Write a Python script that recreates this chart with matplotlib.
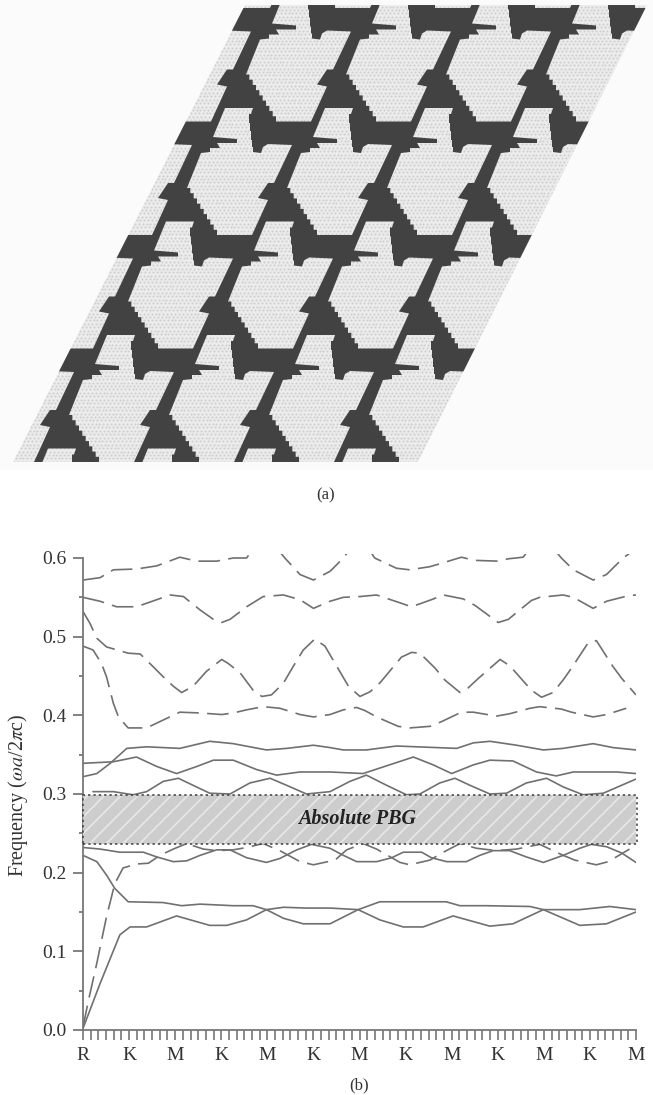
#!/usr/bin/env python3
import numpy as np
import matplotlib
matplotlib.use("Agg")
import matplotlib.pyplot as plt
from matplotlib.patches import Polygon, PathPatch, Rectangle
from matplotlib.path import Path

W, H = 653, 1095
INK = "#333333"
BAND = "#707070"

# band diagram, (x in segments, frequency)
top_x = [0, .37, .66, 1.16, 1.60, 2.10, 2.47, 2.90, 3.26, 3.55, 3.8, 4.1, 4.38, 4.71, 5.0, 5.36, 5.65, 5.9, 6.1, 6.33, 6.80, 7.09, 7.53, 7.82, 8.21, 8.50, 9.01, 9.23, 9.55, 9.8, 10.1, 10.38, 10.64, 11.07, 11.36, 11.72, 12.0]
top_f = [.572, .575, .585, .586, .59, .601, .596, .596, .6, .6, .62, .62, .6, .579, .572, .583, .6, .62, .62, .6, .587, .585, .589, .594, .601, .597, .596, .599, .601, .62, .62, .6, .585, .572, .579, .6, .612]

second_x = [0, .37, .73, 1.16, 1.60, 1.89, 2.18, 2.54, 2.83, 3.01, 3.19, 3.55, 3.91, 4.35, 4.71, 5.0, 5.36, 5.65, 6.01, 6.37, 6.88, 7.13, 7.56, 7.82, 8.25, 8.50, 9.01, 9.23, 9.73, 9.91, 10.42, 10.64, 11.07, 11.36, 11.83, 12.0]
second_f = [.55, .545, .538, .538, .547, .553, .551, .534, .522, .518, .522, .538, .551, .553, .547, .536, .545, .55, .551, .553, .543, .538, .547, .553, .548, .54, .518, .522, .546, .55, .553, .55, .536, .545, .552, .553]

third_x = [0, .15, .30, .51, .98, 1.24, 1.45, 1.74, 1.96, 2.14, 2.39, 2.68, 3.01, 3.15, 3.41, 3.69, 3.88, 4.09, 4.35, 4.56, 4.78, 5.03, 5.25, 5.36, 5.61, 5.76, 6.01, 6.23, 6.44, 6.91, 7.13, 7.31, 7.64, 7.85, 8.18, 8.36, 8.58, 9.05, 9.26, 9.73, 9.95, 10.20, 10.42, 10.60, 10.96, 11.14, 11.50, 11.69, 12.0]
third_f = [.532, .517, .498, .487, .479, .478, .466, .449, .437, .429, .437, .456, .471, .466, .454, .432, .424, .426, .441, .462, .483, .497, .488, .477, .452, .437, .424, .43, .441, .474, .48, .479, .46, .445, .429, .435, .447, .471, .463, .432, .423, .429, .445, .46, .492, .495, .462, .447, .426]

fourth_x = [0, .22, .40, .51, .66, .77, .98, 1.38, 1.74, 2.10, 2.54, 3.01, 3.26, 3.55, 3.91, 4.27, 4.71, 5.0, 5.36, 5.65, 5.94, 6.12, 6.37, 6.84, 7.09, 7.53, 7.78, 8.21, 8.47, 8.97, 9.26, 9.70, 9.91, 10.38, 10.60, 11.07, 11.36, 11.79]
fourth_f = [.488, .483, .466, .449, .415, .398, .384, .384, .394, .404, .403, .401, .403, .407, .411, .409, .401, .398, .401, .407, .41, .406, .398, .386, .384, .386, .392, .404, .404, .399, .402, .409, .411, .408, .404, .398, .401, .409]

upper1_x = [0, .30, .59, .95, 1.38, 2.10, 2.75, 3.26, 3.98, 4.42, 5.0, 5.36, 5.65, 6.15, 6.80, 7.24, 8.11, 8.47, 8.83, 9.41, 9.99, 10.42, 11.07, 11.50, 12.0]
upper1_f = [.322, .326, .339, .358, .36, .358, .367, .364, .356, .358, .362, .359, .356, .356, .361, .36, .358, .365, .367, .362, .356, .358, .364, .359, .356]

upper2_x = [0, .66, 1.16, 1.60, 2.03, 2.47, 2.83, 3.26, 3.77, 4.20, 4.71, 5.36, 6.08, 6.44, 7.17, 7.60, 8.0, 8.47, 8.83, 9.33, 9.84, 10.27, 10.64, 11.58, 12.0]
upper2_f = [.339, .341, .347, .335, .326, .335, .343, .343, .331, .324, .328, .328, .326, .333, .347, .337, .326, .337, .343, .342, .328, .323, .328, .328, .326]

upper3_x = [.22, .66, 1.09, 1.38, 1.74, 2.07, 2.39, 2.75, 3.19, 3.62, 4.06, 4.42, 4.85, 5.36, 5.79, 6.15, 6.59, 7.02, 7.31, 7.74, 8.07, 8.40, 8.83, 9.19, 9.62, 10.06, 10.42, 10.85, 11.29, 12.0]
upper3_f = [.303, .303, .299, .303, .316, .32, .311, .301, .3, .314, .32, .311, .3, .303, .316, .324, .311, .299, .3, .314, .32, .311, .3, .301, .314, .32, .309, .299, .301, .319]

lower1_x = [0, .37, .80, 1.31, 1.60, 1.96, 2.25, 2.54, 2.90, 3.19, 3.55, 3.98, 4.27, 4.64, 4.96, 5.36, 5.65, 5.94, 6.37, 6.70, 6.95, 7.35, 7.56, 7.89, 8.32, 8.61, 8.90, 9.26, 9.62, 9.99, 10.42, 10.78, 11.03, 11.36, 11.69, 12.0]
lower1_f = [.232, .23, .226, .226, .22, .214, .215, .222, .229, .229, .219, .213, .218, .229, .236, .231, .222, .214, .214, .219, .226, .226, .219, .214, .214, .222, .228, .228, .22, .213, .222, .231, .236, .233, .225, .213]

lower2_x = [0, .30, .51, .69, .98, 1.74, 2.14, 2.54, 3.26, 3.69, 3.98, 4.35, 4.85, 5.36, 5.97, 6.44, 7.88, 8.18, 8.76, 9.70, 9.99, 10.78, 11.43, 12.0]
lower2_f = [.222, .214, .197, .18, .163, .162, .158, .16, .158, .158, .153, .156, .155, .155, .153, .163, .163, .158, .158, .157, .153, .153, .157, .153]

lower3_x = [0, .37, .80, 1.02, 1.38, 2.03, 2.75, 3.12, 3.55, 3.98, 4.35, 4.78, 5.36, 5.97, 6.44, 6.95, 7.38, 8.03, 8.83, 9.33, 9.99, 10.78, 11.36, 12.0]
lower3_f = [.002, .059, .121, .131, .131, .145, .133, .133, .14, .153, .142, .135, .135, .153, .14, .131, .131, .145, .132, .135, .153, .133, .135, .15]

lower_dash_x = [0, .12, .30, .51, .69, .87, 1.16, 1.42, 1.67, 1.96, 2.25, 2.61, 2.90, 3.26, 3.55, 3.91, 4.27, 4.71, 5.0, 5.47, 5.72, 6.08, 6.37, 6.88, 7.09, 7.53, 7.82, 8.18, 8.54, 8.97, 9.41, 9.91, 10.42, 10.67, 11.14, 11.40, 11.86]
lower_dash_f = [.004, .038, .085, .144, .186, .206, .211, .212, .222, .23, .237, .23, .228, .229, .232, .237, .228, .214, .21, .216, .229, .237, .23, .213, .21, .216, .226, .237, .231, .228, .23, .236, .222, .216, .21, .214, .23]

dashed_bands = [(top_x, top_f), (second_x, second_f), (third_x, third_f), (fourth_x, fourth_f), (lower_dash_x, lower_dash_f)]
solid_bands = [(upper1_x, upper1_f), (upper2_x, upper2_f), (upper3_x, upper3_f), (lower1_x, lower1_f), (lower2_x, lower2_f), (lower3_x, lower3_f)]

gap_low, gap_high = 0.237, 0.299
point_labels = ["R", "K", "M", "K", "M", "K", "M", "K", "M", "K", "M", "K", "M"]

# one air cell of the lattice in picture pixels
cell_head = [(225, 108), (253, 108), (251, 114), (249, 114), (249, 123), (250, 123), (250, 131), (251, 131), (251, 140), (252, 140), (252, 147), (253, 147), (253, 152), (261, 153), (263, 147), (268, 144), (292, 145), (274, 183), (268, 183), (258, 198), (268, 200), (252, 235)]
cell_tail = [(201, 153), (210, 152), (210, 148), (220, 148), (217, 143), (237, 143), (237, 139), (213, 137)]
cell_stair_from = (217, 235)
cell_stair_to = (187, 188)
period_a = (100, 0)
period_b = (-59, 113.5)
sheet = [(245, 5), (647, 5), (418, 462), (13, 462)]


def stairs(p0, p1, n):
    xs = np.linspace(p0[0], p1[0], n + 1)
    ys = np.linspace(p0[1], p1[1], n + 1)
    pts = []
    for i in range(n):
        pts.append((xs[i], ys[i]))
        pts.append((xs[i], ys[i + 1]))
    pts.append((xs[n], ys[n]))
    return pts


def draw_lattice(ax):
    ax.add_patch(Rectangle((0, 0), W, 470, fc="#fbfbfb", ec="none", zorder=0))
    base = Polygon(sheet, closed=True, fc="#ececec", ec="none", zorder=1)
    ax.add_patch(base)

    rows = np.arange(6.5, 462, 3.45)
    px, py = [], []
    for y in rows:
        left = 245 - (y - 5) * 0.508
        xs = np.arange(left + 1, left + 410, 3.9)
        px.extend(xs)
        py.extend([y] * len(xs))
    dots = ax.scatter(px, py, s=2.2, c="#cfcfcf", linewidths=0, zorder=2)
    dots.set_clip_path(base)

    cell = np.array(cell_head + stairs(cell_stair_from, cell_stair_to, 9) + cell_tail, dtype=float)
    paths = [Path(np.array([(0, 0), (0, H), (W, H), (W, 0), (0, 0)], dtype=float))]
    area = 0.5 * np.sum(cell[:-1, 0] * cell[1:, 1] - cell[1:, 0] * cell[:-1, 1])
    if area < 0:
        cell = cell[::-1]
    for j in range(-2, 4):
        for i in range(-3, 7):
            shift = (i * period_a[0] + j * period_b[0], i * period_a[1] + j * period_b[1])
            paths.append(Path(np.vstack([cell + shift, cell[:1] + shift])))
    rods = PathPatch(Path.make_compound_path(*paths), fc="#424242", ec="none", zorder=3)
    ax.add_patch(rods)
    rods.set_clip_path(base)


def main():
    plt.rcParams["font.family"] = ["Liberation Serif", "DejaVu Serif"]
    plt.rcParams["mathtext.fontset"] = "stix"
    plt.rcParams["hatch.linewidth"] = 1.2

    fig = plt.figure(figsize=(W / 100, H / 100), dpi=100)
    bg = fig.add_axes([0, 0, 1, 1])
    bg.set_xlim(0, W)
    bg.set_ylim(H, 0)
    bg.axis("off")
    draw_lattice(bg)
    bg.text(326, 495, "(a)", ha="center", va="center", fontsize=12, color=INK)
    bg.text(359, 1085, "(b)", ha="center", va="center", fontsize=12, color=INK)
    bg.text(18, 795, r"Frequency ($\omega a$/2$\pi$c)", rotation=90, ha="center", va="center", fontsize=14.5, color=INK)

    # x 0..12 is 83..636 px, y 0..0.6 is 1030..558 px, with a little headroom
    ax = fig.add_axes([83 / W, 1 - 1030 / H, 553 / W, 476 / H])
    ax.patch.set_alpha(0)
    ax.set_xlim(0, 12)
    ax.set_ylim(0, 0.6 * 476 / 472)

    for xs, fs in solid_bands:
        ax.plot(xs, fs, color=BAND, lw=1.2, zorder=2)
    for xs, fs in dashed_bands:
        ax.plot(xs, fs, color=BAND, lw=1.2, ls=(0, (13, 5)), zorder=2)

    ax.add_patch(Rectangle((0, gap_low), 12.02, gap_high - gap_low, fc="#cdcdcd", ec="#e8e8e8", hatch="//", lw=0, zorder=3))
    ax.add_patch(Rectangle((0, gap_low), 12.02, gap_high - gap_low, fc="none", ec="#3a3a3a", ls=(0, (1.5, 2)), lw=1.1, zorder=4, clip_on=False))
    ax.text(5.94, 0.2685, "Absolute PBG", style="italic", weight="bold", ha="center", va="center", fontsize=14.5, color="#222222", zorder=5)

    for side in ("top", "right"):
        ax.spines[side].set_visible(False)
    ax.spines["left"].set_bounds(0, 0.6)
    for side in ("left", "bottom"):
        ax.spines[side].set_color("#777777")
        ax.spines[side].set_linewidth(1.3)

    ax.set_xticks(range(13))
    ax.set_xticklabels(point_labels)
    ax.set_xticks(np.arange(0, 12.01, 1 / 6), minor=True)
    ax.set_yticks(np.arange(0, 0.61, 0.1))
    ax.set_yticklabels(["0.0", "0.1", "0.2", "0.3", "0.4", "0.5", "0.6"])
    ax.set_yticks(np.arange(0.05, 0.6, 0.1), minor=True)
    ax.tick_params(axis="x", which="both", length=7, width=1.2, color="#777777", labelsize=14, labelcolor=INK, pad=5.5)
    ax.tick_params(axis="y", which="major", length=7, width=1.3, color="#777777", labelsize=14, labelcolor=INK, pad=5)
    ax.tick_params(axis="y", which="minor", length=3, width=1.3, color="#777777")

    fig.savefig("out.png", dpi=100)
    plt.close(fig)


if __name__ == "__main__":
    main()
